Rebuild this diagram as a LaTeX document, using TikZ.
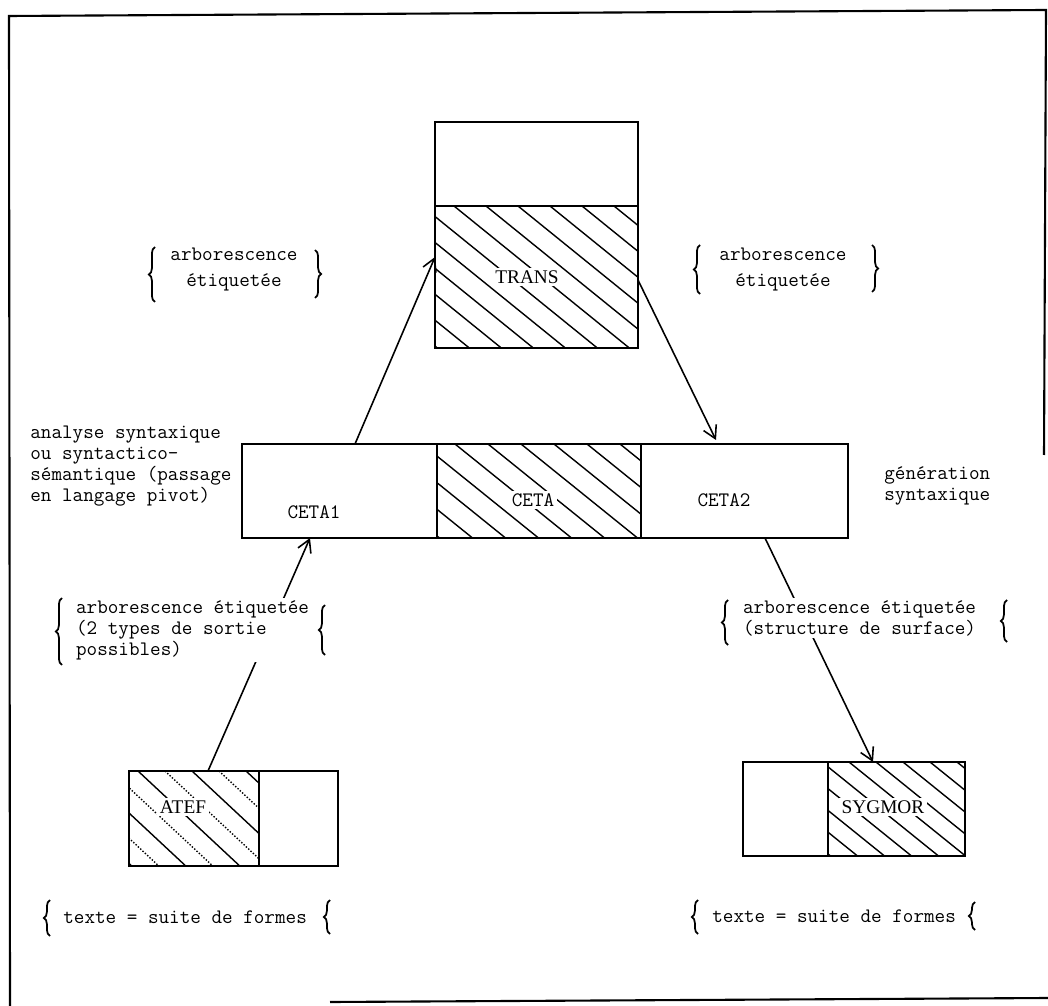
\documentclass[tikz,border=0pt]{standalone}
\usepackage{fontspec}
\usepackage{tikz}
\newfontfamily\serifsans{Liberation Serif}
\usetikzlibrary{arrows.meta,decorations.pathreplacing}

\tikzset{
  boxline/.style={line width=1.1pt},
  hatchline/.style={line width=.8pt},
  flow/.style={line width=.9pt,-{Straight Barb[length=7pt,width=8pt]}},
  curly/.style={line width=1pt,decorate,decoration={brace,amplitude=3.5pt}},
  remark/.style={font=\ttfamily\fontsize{11.7}{12}\selectfont,align=left,inner sep=0pt},
  pairnote/.style={font=\ttfamily\fontsize{11.7}{14.8}\selectfont,align=center,inner sep=0pt},
  progname/.style={font=\serifsans\fontsize{11}{12}\selectfont,fill=white,inner sep=1.5pt},
  cetaname/.style={font=\ttfamily\fontsize{11.7}{12}\selectfont,fill=white,inner sep=1.5pt}
}

\begin{document}
\begin{tikzpicture}[x=0.02cm,y=-0.02cm]
    \useasboundingbox (0,0) rectangle (1048,1006);

    % frame
    \draw[line width=1.2pt] (10,1006) -- (9,16) -- (1046,10) -- (1044,455);
    \draw[line width=1.2pt] (330,1002) -- (1048,998);

    % TRANS
    \begin{scope}
        \clip (435,206) rectangle (638,348);
        \foreach \x in {262,294,...,640} \draw[hatchline] (\x,206) -- ++(200,162);
    \end{scope}
    \draw[boxline] (435,122) rectangle (638,348);
    \draw[boxline] (435,206) -- (638,206);
    \node[progname] (trans) at (527,277) {TRANS};

    % CETA
    \begin{scope}
        \clip (437,444) rectangle (641,538);
        \foreach \x in {323,356,...,641} \draw[hatchline] (\x,444) -- ++(150,121);
    \end{scope}
    \draw[boxline] (242,444) rectangle (848,538);
    \draw[boxline] (437,444) -- (437,538);
    \draw[boxline] (641,444) -- (641,538);
    \node[cetaname] (cetaun) at (314,512) {CETA1};
    \node[cetaname] (ceta) at (533,500) {CETA};
    \node[cetaname] (cetadeux) at (724,500) {CETA2};

    % ATEF
    \begin{scope}
        \clip (129,771) rectangle (259,866);
        \foreach \x [count=\i] in {30,57,...,259} {
            \ifodd\i \draw[hatchline] (\x,771) -- ++(120,112);
            \else \draw[hatchline,densely dotted] (\x,771) -- ++(120,112); \fi
        }
    \end{scope}
    \draw[boxline] (129,771) rectangle (338,866);
    \draw[boxline] (259,771) -- (259,866);
    \node[progname] (atef) at (183,807) {ATEF};

    % SYGMOR
    \begin{scope}
        \clip (828,762) rectangle (965,856);
        \foreach \x in {714,741,...,965} \draw[hatchline] (\x,762) -- ++(150,121);
    \end{scope}
    \draw[boxline] (743,762) rectangle (965,856);
    \draw[boxline] (828,762) -- (828,856);
    \node[progname] (sygmor) at (883,807) {SYGMOR};

    % connectors
    \coordinate (atefTop) at (208,771);
    \coordinate (cetaunBot) at (310,538);
    \coordinate (cetaunTop) at (355,444);
    \coordinate (transW) at (435,257);
    \coordinate (transE) at (638,280);
    \coordinate (cetadeuxTop) at (716,440);
    \coordinate (cetadeuxBot) at (765,538);
    \coordinate (sygmorTop) at (873,762);
    \draw[flow] (atefTop) -- (cetaunBot);
    \draw[flow] (cetaunTop) -- (transW);
    \draw[flow] (transE) -- (cetadeuxTop);
    \draw[flow] (cetadeuxBot) -- (sygmorTop);

    % texts
    \node[pairnote] (arbgauche) at (234,270) {arborescence\\étiquetée};
    \node[pairnote] (arbdroite) at (783,270) {arborescence\\étiquetée};
    \node[remark,anchor=west] (analyse) at (30,466)
        {analyse syntaxique\\ou syntactico-\\sémantique (passage\\en langage pivot)};
    \node[remark,anchor=west] (generation) at (884,486) {génération\\syntaxique};
    \node[remark,anchor=west,fill=white,inner sep=1pt] (sortie) at (74,630)
        {arborescence étiquetée\\(2 types de sortie\\possibles)};
    \node[remark,anchor=west,fill=white,inner sep=1pt] (surface) at (741,618)
        {arborescence étiquetée\\(structure de surface)};
    \node[remark,anchor=west] (texteg) at (63,917) {texte = suite de formes};
    \node[remark,anchor=west] (texted) at (712,916) {texte = suite de formes};

    % braces
    \draw[curly] (155,302) -- (155,247);
    \draw[curly] (315,250) -- (315,298);
    \draw[curly] (700,294) -- (700,245);
    \draw[curly] (872,245) -- (872,292);
    \draw[curly] (62,665) -- (62,598);
    \draw[curly] (325,655) -- (325,605);
    \draw[curly] (728,645) -- (728,600);
    \draw[curly] (1007,642) -- (1007,600);
    \draw[curly] (50,936) -- (50,900);
    \draw[curly] (330,934) -- (330,900);
    \draw[curly] (698,934) -- (698,900);
    \draw[curly] (975,930) -- (975,902);
\end{tikzpicture}
\end{document}
